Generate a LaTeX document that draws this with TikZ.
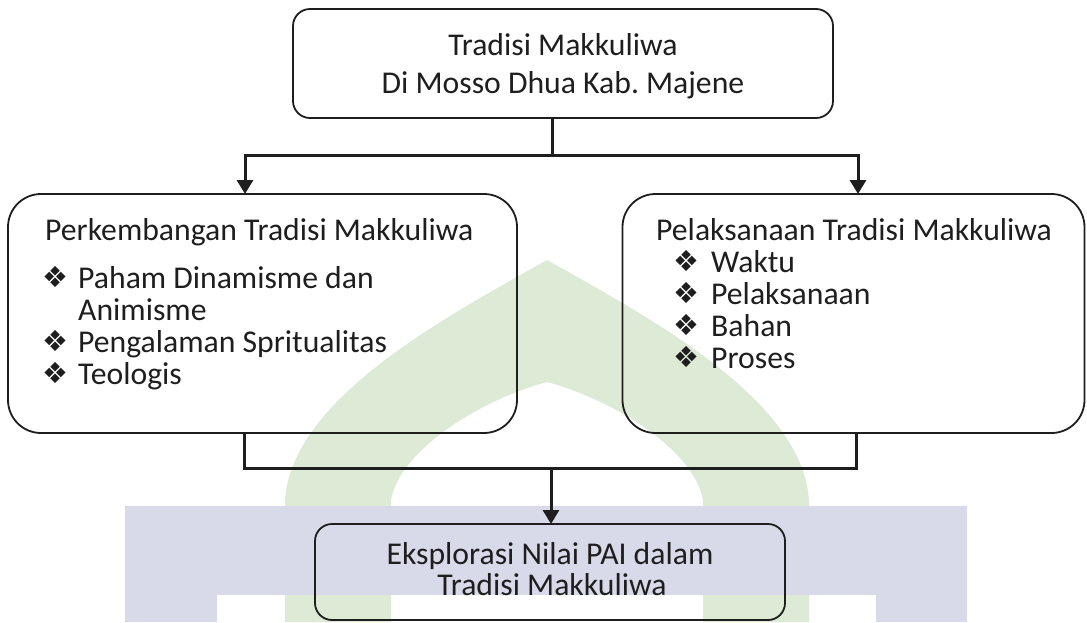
\documentclass[tikz,border=0pt]{standalone}
\usepackage{fontspec}
\setmainfont{Carlito}
\newfontfamily\symfont{DejaVu Sans}
\usetikzlibrary{arrows.meta}
\frenchspacing
\definecolor{wmgreen}{HTML}{DCEAD6}
\definecolor{wmlav}{HTML}{D9DAE9}
\definecolor{ink}{HTML}{1E1E1E}
\tikzset{
  box/.style={draw=ink, line width=1.8pt, rounded corners=#1, inner sep=0pt, outer sep=0pt},
  conn/.style={draw=ink, line width=3pt},
  arr/.style={conn, -{Triangle[length=14pt,width=16pt]}},
  txt/.style={inner sep=0pt, anchor=base west, text=ink, font=\fontsize{31.7}{32}\selectfont},
  ctxt/.style={txt, anchor=base},
  bul/.style={inner sep=0pt, anchor=base west, text=ink, font=\symfont\fontsize{29}{29}\selectfont},
}
\begin{document}
\begin{tikzpicture}[x=1pt,y=-1pt]
\useasboundingbox (0,0) rectangle (1087,622);
% watermark
\fill[wmgreen] (285,622) -- (285,500) .. controls (292,400) and (440,320) .. (547,260)
   .. controls (654,320) and (802,400) .. (809,500) -- (809,622) -- (703,622) -- (703,500)
   .. controls (694,450) and (614,400) .. (547,382) .. controls (480,400) and (400,450) .. (391,500)
   -- (391,622) -- cycle;
\fill[wmlav] (125,506) rectangle (967,595);
\fill[wmlav] (125,595) rectangle (217,622);
\fill[wmlav] (876,595) rectangle (967,622);
% boxes
\node[box=17pt, minimum width=540pt, minimum height=109pt] (top) at (563,63.5) {};
\node[box=33pt, minimum width=509pt, minimum height=239pt] (left) at (262.5,313.5) {};
\node[box=33pt, minimum width=462pt, minimum height=239pt] (right) at (853.5,313.5) {};
\node[box=17pt, minimum width=470pt, minimum height=96pt] (bot) at (550,572) {};
% texts
\node[ctxt] (t1) at (563,55) {Tradisi Makkuliwa};
\node[ctxt] (t2) at (563,93) {Di Mosso Dhua Kab. Majene};
\node[txt] (l0) at (45,240) {Perkembangan Tradisi Makkuliwa};
\node[bul] (lb1) at (42,287) {❖};
\node[txt] (l1) at (78,288) {Paham Dinamisme dan};
\node[txt] (l2) at (78,320) {Animisme};
\node[bul] (lb3) at (42,351) {❖};
\node[txt] (l3) at (78,352) {Pengalaman Spritualitas};
\node[bul] (lb4) at (42,383) {❖};
\node[txt] (l4) at (78,384) {Teologis};
\node[txt] (r0) at (656,240) {Pelaksanaan Tradisi Makkuliwa};
\node[bul] (rb1) at (673,271) {❖};
\node[txt] (r1) at (711,272) {Waktu};
\node[bul] (rb2) at (673,303) {❖};
\node[txt] (r2) at (711,304) {Pelaksanaan};
\node[bul] (rb3) at (673,335) {❖};
\node[txt] (r3) at (711,336) {Bahan};
\node[bul] (rb4) at (673,367) {❖};
\node[txt] (r4) at (711,368) {Proses};
\node[ctxt] (b1) at (550,564) {Eksplorasi Nilai PAI dalam};
\node[ctxt] (b2) at (552,595) {Tradisi Makkuliwa};
% connectors
\coordinate (j1) at (552,155);
\coordinate (aL) at (245,155);
\coordinate (aR) at (858,155);
\draw[conn] (top.south -| j1) -- (j1);
\draw[arr] (aR) -- (aL) -- (aL |- left.north);
\draw[arr] (aL) -- (aR) -- (aR |- right.north);
\coordinate (bL) at (244,468);
\coordinate (bR) at (856,468);
\coordinate (bC) at (551,468);
\draw[conn] (left.south -| bL) -- (bL) -- (bR) -- (right.south -| bR);
\draw[arr] (bC) -- (bC |- bot.north);
\end{tikzpicture}
\end{document}
